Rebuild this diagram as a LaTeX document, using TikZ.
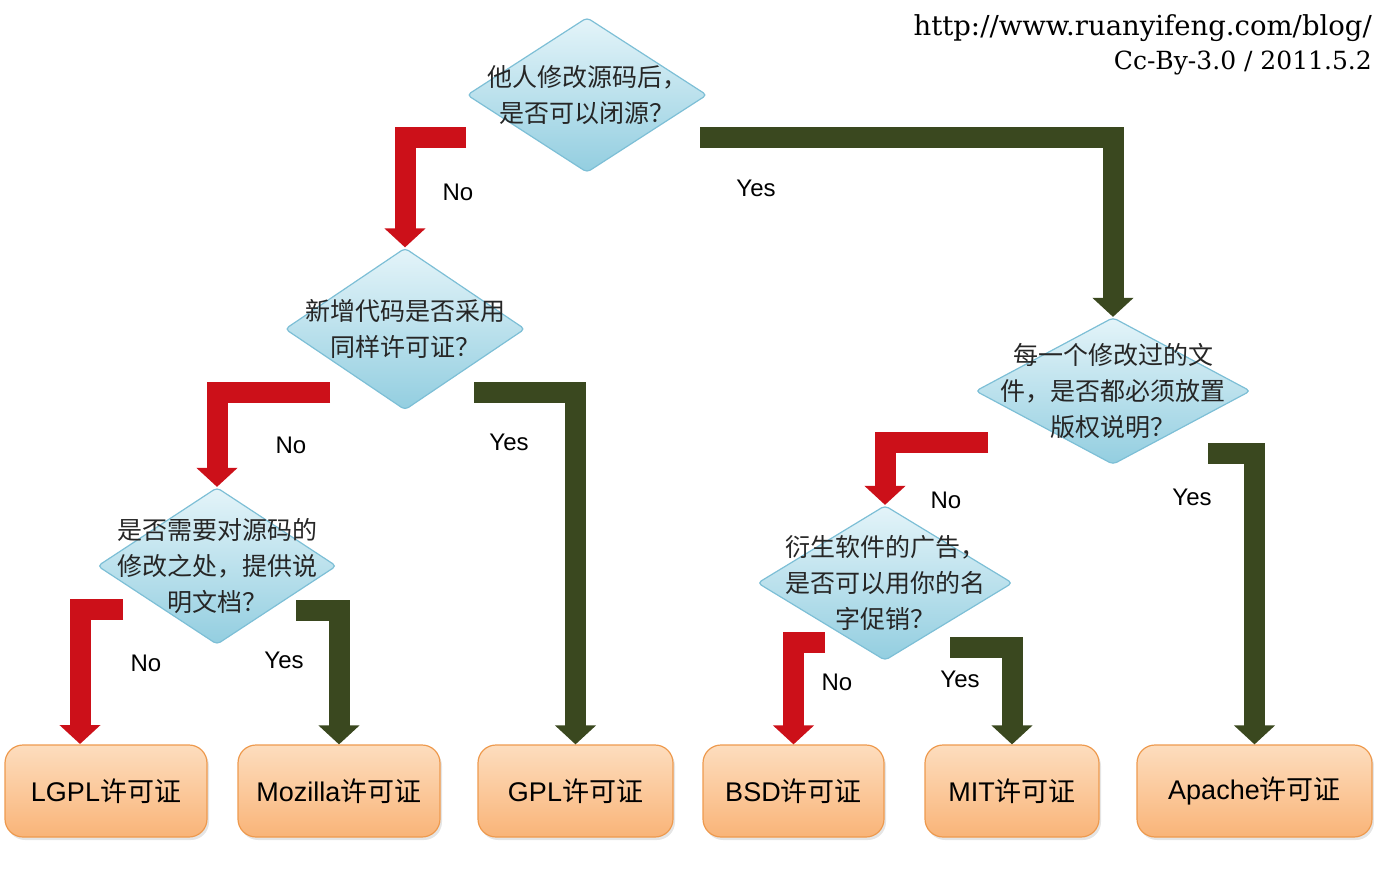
\documentclass[tikz,border=0pt]{standalone}
\usepackage{fontspec}
\setsansfont{Liberation Sans}
\newfontfamily\cjk{Noto Sans CJK SC}
\newfontfamily\srcfont{DejaVu Serif}
\usetikzlibrary{arrows.meta,shapes.geometric,shadows}

\definecolor{qtop}{HTML}{E4F4F9}
\definecolor{qbot}{HTML}{93CEE0}
\definecolor{qline}{HTML}{7DBFD6}
\definecolor{ltop}{HTML}{FDDDBE}
\definecolor{lmid}{HTML}{F8AA62}
\definecolor{lbot}{HTML}{F9B478}
\definecolor{lline}{HTML}{EE9A4E}
\definecolor{noclr}{HTML}{CC1019}
\definecolor{yesclr}{HTML}{3A481F}

\newcommand{\lic}[1]{#1{\cjk 许可证}}

\begin{document}
\begin{tikzpicture}[x=1pt, y=-1pt,
    quest/.style={diamond, draw=qline, line width=1.2pt, top color=qtop, bottom color=qbot, inner sep=0pt, rounded corners=4pt},
    qtext/.style={font=\cjk\fontsize{25}{36}\selectfont, align=center, text=black!85},
    licbox/.style={draw=lline, line width=1.2pt, rounded corners=18pt, top color=ltop, middle color=lmid, bottom color=lbot, minimum height=92pt, inner sep=0pt, font=\sffamily\fontsize{27}{30}\selectfont, drop shadow={shadow xshift=2pt, shadow yshift=-3pt, fill=black!20}},
    noarr/.style={draw=noclr, line width=21pt, miter limit=4, -{Triangle[length=19pt,width=40pt]}},
    yesarr/.style={draw=yesclr, line width=21pt, miter limit=4, -{Triangle[length=19pt,width=40pt]}},
    lbl/.style={font=\sffamily\fontsize{24}{28}\selectfont},
    src/.style={anchor=east, inner sep=0pt}
]
\useasboundingbox (0,0) rectangle (1374,877);

% source
\node[src, font=\srcfont\fontsize{27.5}{34}\selectfont] (url) at (1372,28) {http://www.ruanyifeng.com/blog/};
\node[src, font=\srcfont\fontsize{25}{34}\selectfont] (cc) at (1372,63) {Cc-By-3.0 / 2011.5.2};

% questions
\node[quest, minimum width=240pt, minimum height=155pt, label={[qtext]center:他人修改源码后，\\是否可以闭源？}] (q1) at (587,95) {};
\node[quest, minimum width=240pt, minimum height=162pt, label={[qtext]center:新增代码是否采用\\同样许可证？}] (q2) at (405,329) {};
\node[quest, minimum width=239pt, minimum height=157pt, label={[qtext]center:是否需要对源码的\\修改之处，提供说\\明文档？}] (q3) at (217,566) {};
\node[quest, minimum width=275pt, minimum height=147pt, label={[qtext]center:每一个修改过的文\\件，是否都必须放置\\版权说明？}] (q4) at (1113,391) {};
\node[quest, minimum width=255pt, minimum height=155pt, label={[qtext]center:衍生软件的广告，\\是否可以用你的名\\字促销？}] (q5) at (885,583) {};

% licences
\node[licbox, minimum width=202pt] (lgpl) at (106,791) {\lic{LGPL}};
\node[licbox, minimum width=202pt] (moz) at (339,791) {\lic{Mozilla}};
\node[licbox, minimum width=195pt] (gpl) at (575.5,791) {\lic{GPL}};
\node[licbox, minimum width=181pt] (bsd) at (793.5,791) {\lic{BSD}};
\node[licbox, minimum width=174pt] (mit) at (1012,791) {\lic{MIT}};
\node[licbox, minimum width=235pt] (apache) at (1254.5,791) {\lic{Apache}};

% arrow starts
\coordinate (s1) at (466,138);
\coordinate (s2) at (700,138);
\coordinate (s3) at (330,392);
\coordinate (s4) at (474,392);
\coordinate (s5) at (123,609);
\coordinate (s6) at (296,610);
\coordinate (s7) at (988,442);
\coordinate (s8) at (1208,453);
\coordinate (s9) at (825,642);
\coordinate (s10) at (950,647);
\coordinate (t5) at (80,744);

\draw[noarr] (s1) -| (q2.north);
\draw[yesarr] (s2) -| (q4.north);
\draw[noarr] (s3) -| (q3.north);
\draw[yesarr] (s4) -| (gpl.north);
\draw[noarr] (s5) -| (t5);
\draw[yesarr] (s6) -| (moz.north);
\draw[noarr] (s7) -| (q5.north);
\draw[yesarr] (s8) -| (apache.north);
\draw[noarr] (s9) -| (bsd.north);
\draw[yesarr] (s10) -| (mit.north);

% labels
\node[lbl] (l1) at (458,192) {No};
\node[lbl] (l2) at (756,188) {Yes};
\node[lbl] (l3) at (291,445) {No};
\node[lbl] (l4) at (509,442) {Yes};
\node[lbl] (l5) at (146,663) {No};
\node[lbl] (l6) at (284,660) {Yes};
\node[lbl] (l7) at (946,500) {No};
\node[lbl] (l8) at (1192,497) {Yes};
\node[lbl] (l9) at (837,682) {No};
\node[lbl] (l10) at (960,679) {Yes};
\end{tikzpicture}
\end{document}
